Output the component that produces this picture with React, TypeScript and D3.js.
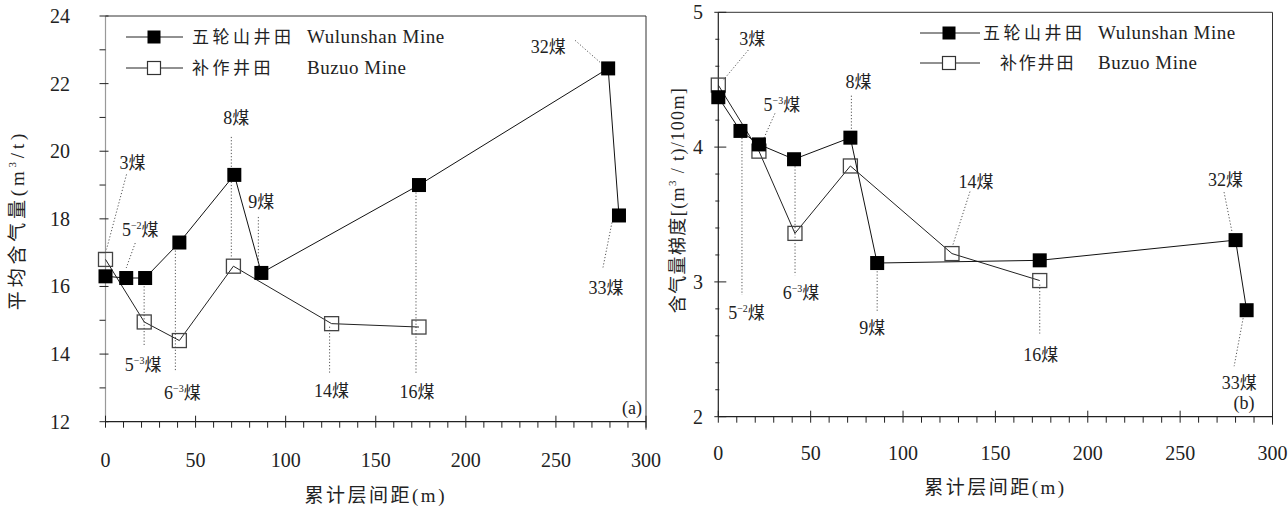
import React from "react";
import * as d3 from "d3";

// cumulative interlayer distance (m) and values
const xWuA = [0, 11.5, 22, 41, 71.5, 86.5, 174, 279, 285];
const yWuA = [16.3, 16.25, 16.25, 17.3, 19.3, 16.4, 19.0, 22.45, 18.1];
const xBzA = [0, 21.5, 41, 71, 125.5, 174];
const yBzA = [16.8, 14.95, 14.4, 16.6, 14.9, 14.8];

const xWuB = [0, 12, 22, 41, 71.5, 86, 174, 280, 286];
const yWuB = [4.37, 4.12, 4.02, 3.91, 4.07, 3.14, 3.16, 3.31, 2.79];
const xBzB = [0, 22, 41.5, 71.5, 126.5, 174];
const yBzB = [4.46, 3.97, 3.36, 3.86, 3.21, 3.01];

const legendCn = ["五轮山井田", "补作井田"];
const legendEn = ["Wulunshan Mine", "Buzuo Mine"];
const xTitle = "累计层间距(m)";

// seam labels: number, superscript, series, index + label/leader offsets
type Ann = { n: string; sup?: string; s: "wu" | "bz"; i: number; tx: number; ty: number; l: number[] };
const annA: Ann[] = [
  { n: "3", s: "bz", i: 0, tx: 27, ty: -96, l: [21, -85, 1, -10] },
  { n: "5", sup: "−2", s: "wu", i: 1, tx: 14, ty: -48, l: [9, -35, 0, -10] },
  { n: "5", sup: "−3", s: "wu", i: 2, tx: -2, ty: 87, l: [-1, 5, -1, 69] },
  { n: "6", sup: "−3", s: "wu", i: 3, tx: 3, ty: 150, l: [-4, 8, -4, 128] },
  { n: "8", s: "wu", i: 4, tx: 2, ty: -57, l: [-3, -38, -3, 83] },
  { n: "9", s: "wu", i: 5, tx: 0, ty: -71, l: [-3, -56, -3, -6] },
  { n: "14", s: "bz", i: 4, tx: 0, ty: 67, l: [-2, 3, -2, 50] },
  { n: "16", s: "wu", i: 6, tx: -2, ty: 207, l: [-3, 1, -3, 188] },
  { n: "32", s: "wu", i: 7, tx: -60, ty: -21, l: [-33, -28, -8, -6] },
  { n: "33", s: "wu", i: 8, tx: -13, ty: 73, l: [-7, 7, -16, 52] },
];
const annB: Ann[] = [
  { n: "3", s: "bz", i: 0, tx: 34, ty: -46, l: [30, -35, 5, -5] },
  { n: "5", sup: "−3", s: "wu", i: 2, tx: 23, ty: -39, l: [16, -31, 4, -4] },
  { n: "8", s: "wu", i: 4, tx: 8, ty: -56, l: [1, -42, 1, -8] },
  { n: "5", sup: "−2", s: "wu", i: 1, tx: 6, ty: 182, l: [1.5, 7, 1.5, 164] },
  { n: "6", sup: "−3", s: "wu", i: 3, tx: 7, ty: 134, l: [1, 7, 1, 116] },
  { n: "9", s: "wu", i: 5, tx: -5, ty: 65, l: [0, 5, 0, 48] },
  { n: "14", s: "bz", i: 4, tx: 24, ty: -72, l: [18, -62, 1, -9] },
  { n: "16", s: "bz", i: 5, tx: 1, ty: 74, l: [0, 4, 0, 53] },
  { n: "32", s: "wu", i: 7, tx: -10, ty: -60, l: [-11.5, -48, -3.5, -8] },
  { n: "33", s: "wu", i: 8, tx: -7.5, ty: 73, l: [-3.5, 8, -12.5, 56] },
];

const SERIF = "'Liberation Serif', 'Noto Sans CJK SC', serif";
const CJK = "'Noto Sans CJK SC', sans-serif";

function SeamLabel({ a, x, y }: { a: Ann; x: number; y: number }) {
  return (
    <text x={x} y={y + 6} textAnchor="middle" fontFamily={SERIF} fontSize={18} fill="#222">
      {a.n}
      {a.sup && (
        <tspan fontSize={10} dy={-7}>
          {a.sup}
        </tspan>
      )}
      <tspan dy={a.sup ? 7 : 0} fontFamily={CJK} fontSize={17}>
        煤
      </tspan>
    </text>
  );
}

function Panel(p: any) {
  const x = d3.scaleLinear().domain([0, 300]).range([p.left, p.right]);
  const y = d3.scaleLinear().domain(p.yDomain).range([p.bottom, p.top]);
  const line = d3
    .line<number>()
    .x((d, i) => x(p.xs[i]))
    .y((d) => y(d));
  const lineWu = d3
    .line<number>()
    .x((d, i) => x(p.xw[i]))
    .y((d) => y(d));
  const xMajor = x.ticks(6);
  const xMinor = d3.range(0, 301, 10).filter((v) => v % 50 !== 0);
  const pt = (a: Ann) =>
    a.s === "wu" ? [x(p.xw[a.i]), y(p.yw[a.i])] : [x(p.xs[a.i]), y(p.ys[a.i])];
  const M = 14;
  return (
    <g>
      {/* frame */}
      <line x1={p.left} x2={p.right} y1={p.top} y2={p.top} stroke="#333" />
      <line x1={p.right} x2={p.right} y1={p.top} y2={p.bottom + 8} stroke="#333" />
      <line x1={p.left} x2={p.left} y1={p.top} y2={p.bottom} stroke={p.leftColor} strokeWidth={1.2} />
      <line x1={p.left} x2={p.right} y1={p.bottom} y2={p.bottom} stroke="#222" strokeWidth={1.2} />

      {/* x ticks */}
      {xMajor.map((v) => (
        <g key={"xm" + v}>
          <line x1={x(v)} x2={x(v)} y1={p.bottom - 6} y2={p.bottom + 6} stroke="#222" />
          <text x={x(v)} y={p.xLabelY} textAnchor="middle" fontFamily={SERIF} fontSize={20} fill="#222">
            {v}
          </text>
        </g>
      ))}
      {xMinor.map((v) => (
        <line key={"xn" + v} x1={x(v)} x2={x(v)} y1={p.bottom} y2={p.bottom + 6} stroke="#222" />
      ))}

      {/* y ticks */}
      {p.yMajor.map((v: number) => (
        <g key={"ym" + v}>
          <line x1={p.left - p.yOut} x2={p.left + p.yIn} y1={y(v)} y2={y(v)} stroke="#222" />
          <text x={p.yLabelX} y={y(v) + 7} textAnchor="end" fontFamily={SERIF} fontSize={20} fill="#222">
            {v}
          </text>
        </g>
      ))}
      {p.yMinor.map((v: number) => (
        <line key={"yn" + v} x1={p.left - p.yMinOut} x2={p.left + p.yMinIn} y1={y(v)} y2={y(v)} stroke="#222" />
      ))}

      {/* axis titles */}
      <text x={(p.left + p.right) / 2} y={p.xTitleY} textAnchor="middle" fontFamily={SERIF} fontSize={19} letterSpacing={2.5} fill="#222">
        {xTitle}
      </text>
      <text
        transform={`translate(${p.yTitleX},${p.yTitleY}) rotate(-90)`}
        textAnchor="middle"
        fontFamily={SERIF}
        fontSize={p.yTitleSize}
        letterSpacing={p.yTitleSpacing}
        fill="#222"
      >
        {p.yTitle[0]}
        <tspan fontSize={11} dy={-8}>3</tspan>
        <tspan dy={8}>{p.yTitle[1]}</tspan>
      </text>

      {/* leaders */}
      {p.ann.map((a: Ann, k: number) => {
        const [px, py] = pt(a);
        return (
          <line
            key={"ld" + k}
            x1={px + a.l[0]}
            y1={py + a.l[1]}
            x2={px + a.l[2]}
            y2={py + a.l[3]}
            stroke="#555"
            strokeDasharray="1.2 2"
          />
        );
      })}

      {/* Buzuo series */}
      <path d={line(p.ys) || ""} fill="none" stroke="#222" strokeWidth={1} />
      {p.ys.map((v: number, i: number) => (
        <rect key={"bz" + i} x={x(p.xs[i]) - M / 2} y={y(v) - M / 2} width={M} height={M} fill="none" stroke="#444" strokeWidth={1.3} />
      ))}
      {/* Wulunshan series */}
      <path d={lineWu(p.yw) || ""} fill="none" stroke="#111" strokeWidth={1} />
      {p.yw.map((v: number, i: number) => (
        <rect key={"wu" + i} x={x(p.xw[i]) - M / 2} y={y(v) - M / 2} width={M} height={M} fill="#000" />
      ))}

      {/* seam labels */}
      {p.ann.map((a: Ann, k: number) => {
        const [px, py] = pt(a);
        return <SeamLabel key={"sl" + k} a={a} x={px + a.tx} y={py + a.ty} />;
      })}

      {/* legend */}
      {[0, 1].map((r) => {
        const ly = p.legY[r];
        return (
          <g key={"lg" + r}>
            <line x1={p.legX0} x2={p.legX1} y1={ly} y2={ly} stroke="#222" />
            {r === 0 ? (
              <rect x={p.legM - 6.5} y={ly - 6.5} width={13} height={13} fill="#000" />
            ) : (
              <rect x={p.legM - 6.5} y={ly - 6.5} width={13} height={13} fill="#fff" stroke="#333" strokeWidth={1.2} />
            )}
            <text x={p.legCn[r]} y={ly + 6} fontFamily={CJK} fontSize={17} letterSpacing={p.legSp[r]} fill="#222">
              {legendCn[r]}
            </text>
            <text x={p.legEn} y={ly + 6} fontFamily={SERIF} fontSize={19} letterSpacing={0.5} fill="#222">
              {legendEn[r]}
            </text>
          </g>
        );
      })}

      <text x={p.tagX} y={p.tagY} textAnchor="middle" fontFamily={SERIF} fontSize={18} fill="#222">
        {p.tag}
      </text>
    </g>
  );
}

export default function App() {
  const minorB = d3.range(2, 5.001, 0.2).filter((v) => Math.abs(v - Math.round(v)) > 0.01);
  return (
    <svg width={1288} height={506} style={{ position: "absolute", left: 0, top: 0, background: "#fff" }}>
      <Panel
        left={105.5}
        right={646}
        top={16}
        bottom={421.7}
        yDomain={[12, 24]}
        yMajor={d3.range(12, 24.01, 2)}
        yMinor={d3.range(13, 24, 2)}
        yOut={6}
        yIn={3}
        yMinOut={6}
        yMinIn={0}
        leftColor="#999"
        xs={xBzA}
        ys={yBzA}
        xw={xWuA}
        yw={yWuA}
        ann={annA}
        xLabelY={467}
        yLabelX={70}
        xTitleY={502}
        yTitleX={24}
        yTitleY={220}
        yTitleSize={19}
        yTitleSpacing={3.8}
        yTitle={["平均含气量(m", "/t)"]}
        legY={[37, 68]}
        legX0={126}
        legX1={183}
        legM={154}
        legCn={[192, 192]}
        legSp={[3.5, 3.5]}
        legEn={307}
        tag="(a)"
        tagX={632}
        tagY={414}
      />
      <Panel
        left={718.3}
        right={1272.5}
        top={12.3}
        bottom={416.7}
        yDomain={[2, 5]}
        yMajor={[2, 3, 4, 5]}
        yMinor={minorB}
        yOut={4}
        yIn={8}
        yMinOut={3}
        yMinIn={1}
        leftColor="#222"
        xs={xBzB}
        ys={yBzB}
        xw={xWuB}
        yw={yWuB}
        ann={annB}
        xLabelY={460}
        yLabelX={703}
        xTitleY={494}
        yTitleX={684}
        yTitleY={200}
        yTitleSize={18}
        yTitleSpacing={1.4}
        yTitle={["含气量梯度[(m", " / t)/100m]"]}
        legY={[33, 63]}
        legX0={920}
        legX1={980}
        legM={949}
        legCn={[983, 1000]}
        legSp={[3.5, 1.8]}
        legEn={1098}
        tag="(b)"
        tagX={1244}
        tagY={409}
      />
    </svg>
  );
}
